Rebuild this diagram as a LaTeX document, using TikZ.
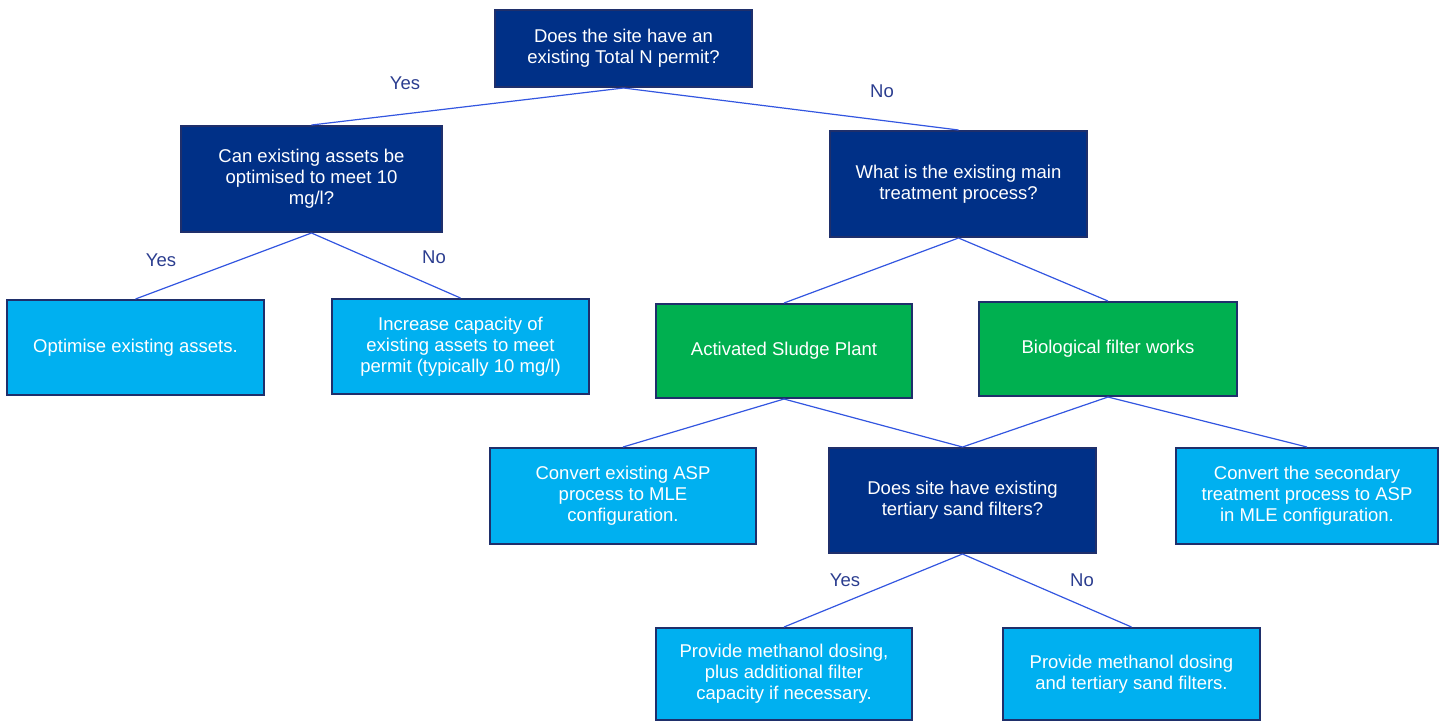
\documentclass[tikz,border=0pt]{standalone}
\usepackage{fontspec}
\setmainfont{Liberation Sans}
\definecolor{navyfill}{HTML}{003087}
\definecolor{navyline}{HTML}{1F2F6B}
\definecolor{skyfill}{HTML}{00B0F0}
\definecolor{leaf}{HTML}{00B050}
\definecolor{linkblue}{HTML}{3356E0}
\definecolor{lbltext}{HTML}{2B3D8F}
\tikzset{
	box/.style={draw=navyline,line width=1pt,text=white,align=center,inner sep=0pt,font=\fontsize{9.25}{10.5}\selectfont},
	qbox/.style={box,fill=navyfill},
	abox/.style={box,fill=skyfill},
	gbox/.style={box,fill=leaf},
	link/.style={draw=linkblue,line width=0.6pt},
	lbl/.style={text=lbltext,font=\fontsize{9.25}{10.5}\selectfont}
}

\begin{document}
\begin{tikzpicture}[x=0.5pt,y=-0.5pt]
	\useasboundingbox (0,0) rectangle (1442,720);
	\node[qbox,minimum width=128.5pt,minimum height=38.5pt] (permit) at (623.5,48.5) {Does the site have an\\existing Total N permit?};
	\node[qbox,minimum width=130.5pt,minimum height=53pt] (optq) at (311.5,179) {Can existing assets be\\optimised to meet 10\\mg/l?};
	\node[qbox,minimum width=128.5pt,minimum height=53pt] (procq) at (958.5,184) {What is the existing main\\treatment process?};
	\node[abox,minimum width=128.5pt,minimum height=47.5pt] (optimise) at (135.5,347.5) {Optimise existing assets.};
	\node[abox,minimum width=128.5pt,minimum height=47.5pt] (capacity) at (460.5,346.5) {Increase capacity of\\existing assets to meet\\permit (typically 10 mg/l)};
	\node[gbox,minimum width=128pt,minimum height=47pt] (asp) at (784,351) {Activated Sludge Plant};
	\node[gbox,minimum width=129pt,minimum height=47pt] (biofilter) at (1108,349) {Biological filter works};
	\node[abox,minimum width=133pt,minimum height=48pt] (convasp) at (623,496) {Convert existing ASP\\process to MLE\\configuration.};
	\node[qbox,minimum width=133.5pt,minimum height=52.5pt] (sandq) at (962.5,500.5) {Does site have existing\\tertiary sand filters?};
	\node[abox,minimum width=131pt,minimum height=48pt] (convsec) at (1307,496) {Convert the secondary\\treatment process to ASP\\in MLE configuration.};
	\node[abox,minimum width=128pt,minimum height=46pt] (dosefilter) at (784,674) {Provide methanol dosing,\\plus additional filter\\capacity if necessary.};
	\node[abox,minimum width=128.5pt,minimum height=46pt] (dosesand) at (1131.5,674) {Provide methanol dosing\\and tertiary sand filters.};

	\draw[link] (permit.south) -- (optq.north);
	\draw[link] (permit.south) -- (procq.north);
	\draw[link] (optq.south) -- (optimise.north);
	\draw[link] (optq.south) -- (capacity.north);
	\draw[link] (procq.south) -- (asp.north);
	\draw[link] (procq.south) -- (biofilter.north);
	\draw[link] (asp.south) -- (convasp.north);
	\draw[link] (asp.south) -- (sandq.north);
	\draw[link] (biofilter.south) -- (sandq.north);
	\draw[link] (biofilter.south) -- (convsec.north);
	\draw[link] (sandq.south) -- (dosefilter.north);
	\draw[link] (sandq.south) -- (dosesand.north);

	\node[lbl] (yestop) at (405,83) {Yes};
	\node[lbl] (notop) at (882,91) {No};
	\node[lbl] (yesopt) at (161,260) {Yes};
	\node[lbl] (noopt) at (434,257) {No};
	\node[lbl] (yessand) at (845,580) {Yes};
	\node[lbl] (nosand) at (1082,580) {No};
\end{tikzpicture}
\end{document}
